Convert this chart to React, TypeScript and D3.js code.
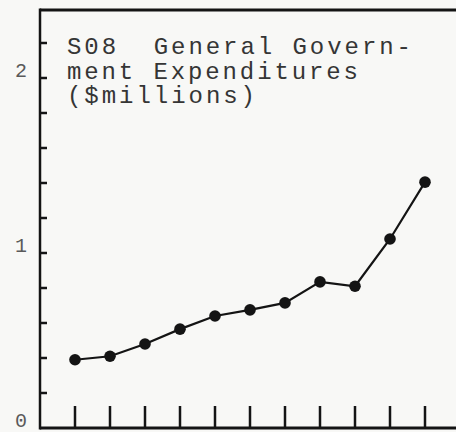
import React from "react";
import * as d3 from "d3";

const periods = ["p1", "p2", "p3", "p4", "p5", "p6", "p7", "p8", "p9", "p10", "p11"];
const expenditures = [0.39, 0.41, 0.48, 0.565, 0.64, 0.675, 0.715, 0.835, 0.81, 1.08, 1.405];
const yMinorTicks = [0.2, 0.4, 0.6, 0.8, 1.0, 1.2, 1.4, 1.6, 1.8, 2.0, 2.2];
const yLabels = [0, 1, 2];
const titleLines = ["S08  General Govern-", "ment Expenditures", "($millions)"];
const titleLengths = [344, 291, 188];

const W = 456;
const H = 432;
const left = 40;
const top = 10;
const bottom = 428;

export default function App() {
  const x = d3.scalePoint<string>().domain(periods).range([75, 425]);
  const y = d3.scaleLinear().domain([0, 1]).range([bottom, bottom - 175]);
  const line = d3
    .line<number>()
    .x((_, i) => x(periods[i]) as number)
    .y((d) => y(d));
  const ink = "#141414";
  const mono = "'Liberation Mono', 'DejaVu Sans Mono', monospace";
  return (
    <div style={{ position: "fixed", left: 0, top: 0 }}>
      <svg width={W} height={H} style={{ display: "block" }}>
        <rect x={0} y={0} width={W} height={H} fill="#f8f8f6" />
        {/* frame */}
        <line x1={left} y1={top} x2={W} y2={top} stroke={ink} strokeWidth={3} />
        <line x1={left} y1={top - 1.5} x2={left} y2={bottom + 1.5} stroke={ink} strokeWidth={2.5} />
        <line x1={left} y1={bottom} x2={W} y2={bottom} stroke={ink} strokeWidth={3} />
        {/* y ticks */}
        {yMinorTicks.map((t) => (
          <line key={t} x1={left} x2={left + 7} y1={y(t)} y2={y(t)} stroke={ink} strokeWidth={2.5} />
        ))}
        {yLabels.map((t) => (
          <text
            key={t}
            x={21}
            y={y(t) - 8}
            dy="0.35em"
            textAnchor="middle"
            fontFamily={mono}
            fontSize={20}
            fill="#5a5a5a"
          >
            {t}
          </text>
        ))}
        {/* x ticks */}
        {periods.map((p) => (
          <line
            key={p}
            x1={x(p)}
            x2={x(p)}
            y1={bottom}
            y2={bottom - 22}
            stroke={ink}
            strokeWidth={2.5}
          />
        ))}
        {/* title */}
        {titleLines.map((s, i) => (
          <text
            key={i}
            x={67}
            y={54 + i * 24.5}
            fontFamily={mono}
            fontSize={24}
            fill="#353535"
            textLength={titleLengths[i]}
            lengthAdjust="spacing"
            style={{ whiteSpace: "pre" }}
          >
            {s}
          </text>
        ))}
        {/* series */}
        <path d={line(expenditures) || ""} fill="none" stroke={ink} strokeWidth={2.2} />
        {expenditures.map((v, i) => (
          <circle key={i} cx={x(periods[i])} cy={y(v)} r={5.8} fill={ink} />
        ))}
      </svg>
    </div>
  );
}
